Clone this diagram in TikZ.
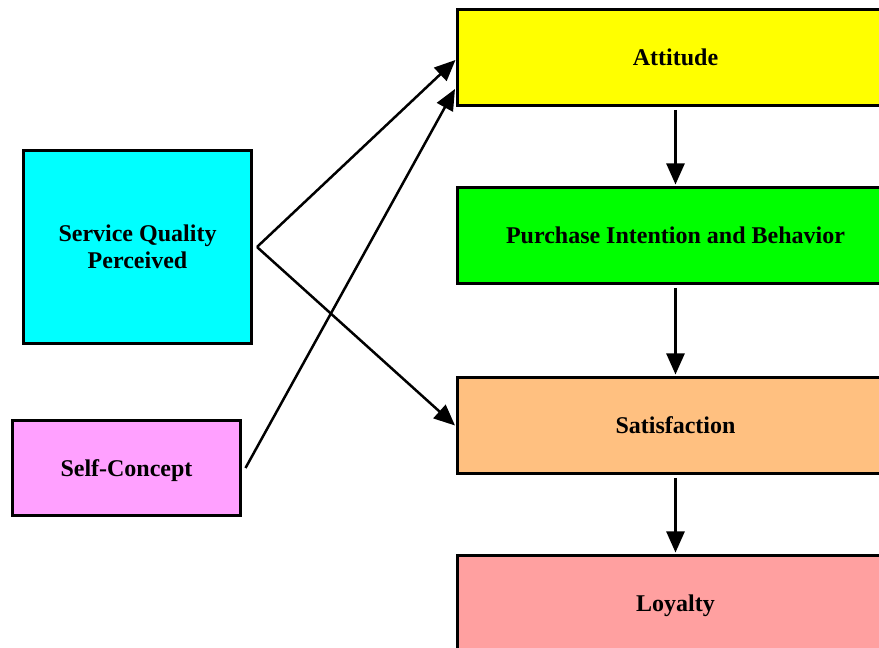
\documentclass[tikz,border=0pt]{standalone}
\usepackage{fontspec}
\setmainfont{Liberation Serif}
\usetikzlibrary{arrows.meta}
\definecolor{cyanbox}{HTML}{00FFFF}
\definecolor{yellowbox}{HTML}{FFFF00}
\definecolor{greenbox}{HTML}{00FF00}
\definecolor{orangebox}{HTML}{FFC080}
\definecolor{pinkbox}{HTML}{FFA0A0}
\definecolor{violetbox}{HTML}{FFA0FF}
\tikzset{
  box/.style={draw=black, line width=3pt, minimum width=436pt, minimum height=96pt,
    inner sep=0pt, align=center, text depth=0pt, font=\fontsize{24}{27}\selectfont\bfseries},
  leftbox/.style={box, minimum width=228pt},
  conn/.style={line width=2.5pt, -{Triangle[length=21pt,width=18pt]}}
}
\begin{document}
\begin{tikzpicture}[x=1pt,y=1pt]
\useasboundingbox (0,0) rectangle (879,648);
\clip (0,0) rectangle (879,648);
\fill[white] (0,0) rectangle (879,648);
\node[box, fill=yellowbox] (att) at (675.5,590.5) {Attitude};
\node[box, fill=greenbox] (pur) at (675.5,412.5) {Purchase Intention and Behavior};
\node[box, fill=orangebox] (sat) at (675.5,222.5) {Satisfaction};
\node[box, fill=pinkbox] (loy) at (675.5,44.5) {Loyalty};
\node[leftbox, fill=cyanbox, minimum height=193pt] (sq) at (137.5,401) {Service Quality\\Perceived};
\node[leftbox, fill=violetbox, minimum height=95pt] (sc) at (126.5,180) {Self-Concept};
\draw[conn] ([xshift=4pt]sq.east) -- ([xshift=-0.5pt,yshift=-2.5pt]att.west);
\draw[conn] ([xshift=4pt]sq.east) -- ([xshift=-1pt]sat.west);
\draw[conn] ([xshift=3.5pt]sc.east) -- ([xshift=-1pt,yshift=18pt]att.south west);
\draw[conn] ([yshift=-3pt]att.south) -- ([yshift=1.5pt]pur.north);
\draw[conn] ([yshift=-3pt]pur.south) -- ([yshift=1.5pt]sat.north);
\draw[conn] ([yshift=-3pt]sat.south) -- ([yshift=1.5pt]loy.north);
\end{tikzpicture}
\end{document}
